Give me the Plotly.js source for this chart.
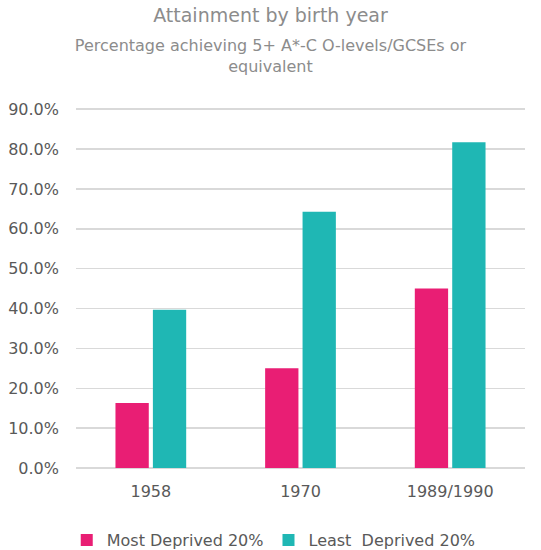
<!DOCTYPE html>
<html>
<head>
<meta charset="utf-8">
<script src="https://cdn.plot.ly/plotly-3.0.1.min.js"></script>
<style>html,body{margin:0;padding:0;background:#fff;}#chart{width:541px;height:550px;}</style>
</head>
<body>
<div id="chart"></div>
<script>
const categories = ["1958", "1970", "1989/1990"];
const mostDeprived = [16.3, 25.0, 45.0];
const leastDeprived = [39.7, 64.3, 81.7];
const seriesNames = ["Most Deprived 20%", "Least\u00A0 Deprived 20%"];
const yTicks = [0, 10, 20, 30, 40, 50, 60, 70, 80, 90];
const yTickLabels = yTicks.map(v => v.toFixed(1) + "%");

const FONT = "DejaVu Sans, Liberation Sans, Arial, sans-serif";
const traces = [
  {type: "bar", name: seriesNames[0], x: categories, y: mostDeprived,
   marker: {color: "#E91E74"}, hoverinfo: "none"},
  {type: "bar", name: seriesNames[1], x: categories, y: leastDeprived,
   marker: {color: "#1FB7B4"}, hoverinfo: "none"}
];
const layout = {
  width: 541, height: 550,
  margin: {l: 76, r: 16, t: 108, b: 82, autoexpand: false},
  paper_bgcolor: "#fff", plot_bgcolor: "#fff",
  font: {family: FONT, color: "#595959", size: 16},
  title: {
    text: "Attainment by birth year",
    font: {family: FONT, size: 19, color: "#8C8C8C"},
    subtitle: {text: "Percentage achieving 5+ A*-C O-levels/GCSEs or<br>equivalent",
               font: {family: FONT, size: 16, color: "#8C8C8C"}},
    x: 0.5, xref: "container", xanchor: "center",
    y: 0.985, yref: "container", yanchor: "top"
  },
  barmode: "group", bargap: 0.5, bargroupgap: 0.11,
  xaxis: {type: "category", showgrid: false, showline: false, ticks: "",
          tickfont: {size: 16, color: "#595959"}, ticklabelstandoff: 12, tickangle: 0},
  yaxis: {range: [0, 90.3], tickmode: "array", tickvals: yTicks, ticktext: yTickLabels,
          showgrid: true, gridcolor: "#D9D9D9", gridwidth: 1.5,
          zeroline: true, zerolinecolor: "#D9D9D9", zerolinewidth: 1.5,
          showline: false, ticks: "", ticklabelstandoff: 16,
          tickfont: {size: 16, color: "#595959"}},
  showlegend: true,
  legend: {orientation: "h", x: 0.506, xref: "container", xanchor: "center",
           y: 0.018, yref: "container", yanchor: "middle",
           font: {size: 16, color: "#595959"}, itemwidth: 30, traceorder: "normal"}
};
Plotly.newPlot("chart", traces, layout, {displayModeBar: false, staticPlot: true});
</script>
</body>
</html>
